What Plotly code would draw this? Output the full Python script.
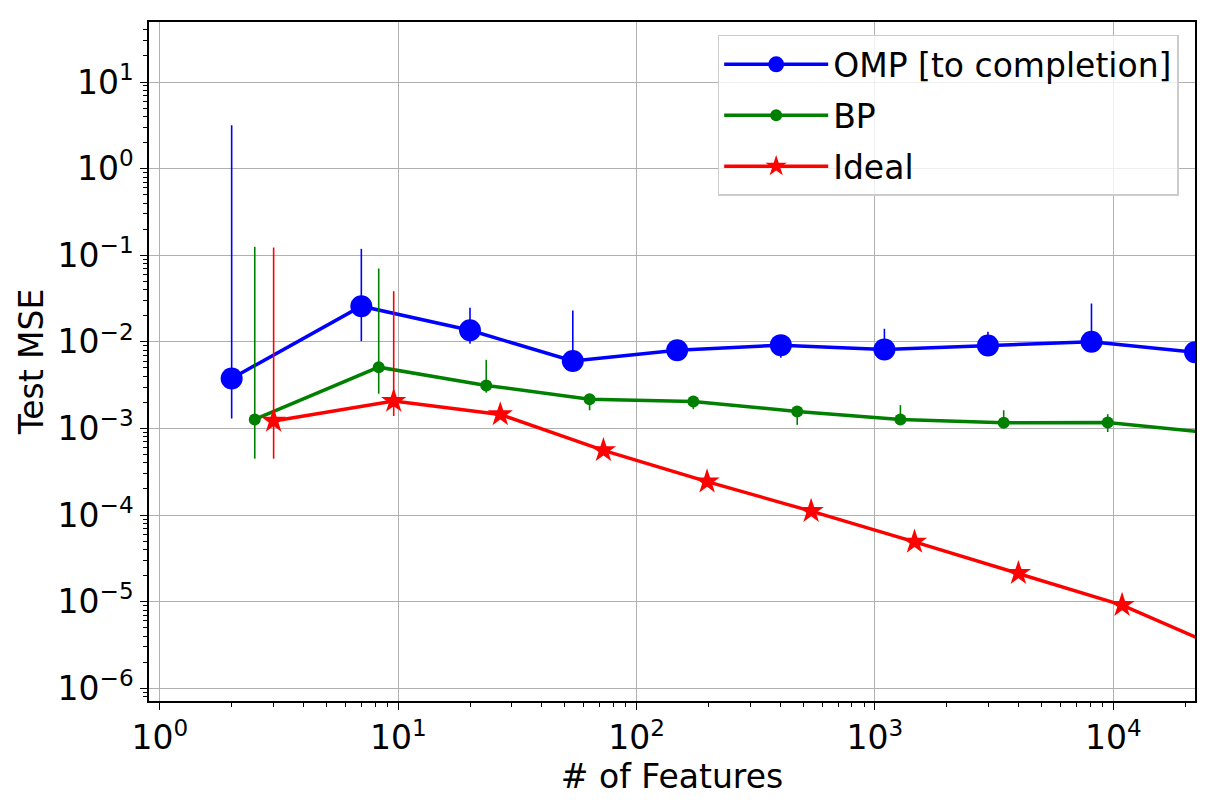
import plotly.graph_objects as go

# ---- data ----
omp_x  = [2, 7, 20, 54, 148, 403, 1096, 2980, 8103, 22026]
omp_y  = [3.78e-3, 2.58e-2, 1.36e-2, 6.0e-3, 8.0e-3, 9.16e-3, 8.17e-3, 9.09e-3, 1.0e-2, 7.6e-3]
omp_hi = [3.16, 0.1186, 0.0247, 0.023, 9.0e-3, 1.05e-2, 0.01416, 0.0131, 0.0277, 8.8e-3]
omp_lo = [1.3e-3, 0.0102, 9.5e-3, 5.2e-3, 7.2e-3, 6.56e-3, 6.6e-3, 7.2e-3, 8.2e-3, 6.5e-3]

bp_x  = [2.5, 8.28, 23.4, 63.5, 173, 472, 1279, 3470, 9480, 25880]
bp_y  = [1.27e-3, 5.1e-3, 3.14e-3, 2.17e-3, 2.05e-3, 1.57e-3, 1.27e-3, 1.16e-3, 1.17e-3, 8.9e-4]
bp_hi = [0.125, 0.0703, 6.2e-3, 2.5e-3, 2.3e-3, 1.75e-3, 1.86e-3, 1.62e-3, 1.46e-3, 1.0e-3]
bp_lo = [4.48e-4, 2.52e-3, 2.59e-3, 1.62e-3, 1.67e-3, 1.1e-3, 1.12e-3, 1.05e-3, 9.1e-4, 8.0e-4]

ideal_x  = [3.0, 9.57, 26.8, 72.6, 197.6, 540, 1466, 4000, 10890, 29700]
ideal_y  = [1.22e-3, 2.07e-3, 1.45e-3, 5.59e-4, 2.43e-4, 1.11e-4, 4.9e-5, 2.13e-5, 9.12e-6, 2.75e-6]
ideal_hi = [0.1227, 0.0384, 1.6e-3, 6.0e-4, 2.6e-4, 1.2e-4, 5.3e-5, 2.3e-5, 9.8e-6, 2.9e-6]
ideal_lo = [4.48e-4, 1.39e-3, 1.3e-3, 5.2e-4, 2.25e-4, 1.03e-4, 4.5e-5, 1.97e-5, 8.4e-6, 2.6e-6]

x_tickvals = [1, 10, 100, 1000, 10000]
x_ticktext = ["10<sup>0</sup>", "10<sup>1</sup>", "10<sup>2</sup>", "10<sup>3</sup>", "10<sup>4</sup>"]
y_tickvals = [1e-6, 1e-5, 1e-4, 1e-3, 1e-2, 1e-1, 1, 10]
y_ticktext = ["10<sup>−6</sup>", "10<sup>−5</sup>", "10<sup>−4</sup>", "10<sup>−3</sup>",
              "10<sup>−2</sup>", "10<sup>−1</sup>", "10<sup>0</sup>", "10<sup>1</sup>"]

x_range = [-0.0458, 4.343]   # log10 of (0.9, 22026)
y_range = [-6.147, 1.693]

FONT = "DejaVu Sans"
FS = 33

def minor_vals(lo_exp, hi_exp):
    vals = []
    for e in range(lo_exp, hi_exp + 1):
        for m in range(2, 10):
            vals.append(m * 10.0 ** e)
    return vals

series = [
    ("OMP [to completion]", omp_x, omp_y, omp_hi, omp_lo, "#0000ff", "circle", 22),
    ("BP", bp_x, bp_y, bp_hi, bp_lo, "#008000", "circle", 12),
    ("Ideal", ideal_x, ideal_y, ideal_hi, ideal_lo, "#ff0000", "star", 19),
]

fig = go.Figure()
for i, (name, xs, ys, hi, lo, col, sym, sz) in enumerate(series):
    fig.add_trace(go.Scatter(
        x=xs, y=ys, name=name, mode="lines+markers",
        legendgroup=f"g{i}",
        line=dict(color=col, width=3.5),
        marker=dict(color=col, symbol=sym, size=sz, line=dict(width=0)),
        error_y=dict(type="data", symmetric=False,
                     array=[h - y for h, y in zip(hi, ys)],
                     arrayminus=[y - l for l, y in zip(lo, ys)],
                     width=0, thickness=1.6, color=col),
    ))

axis_common = dict(
    type="log", showline=True, linecolor="black", linewidth=1.6, mirror=True,
    ticks="outside", ticklen=7, tickwidth=1.4, tickcolor="black",
    showgrid=True, gridcolor="#b0b0b0", gridwidth=1.3, zeroline=False,
    tickfont=dict(family=FONT, size=FS, color="black"),
)

fig.update_xaxes(**axis_common, range=x_range, tickmode="array",
                 tickvals=x_tickvals, ticktext=x_ticktext,
                 minor=dict(tickmode="array", tickvals=minor_vals(0, 4), ticks="outside",
                            ticklen=4, tickwidth=1, tickcolor="black", showgrid=False),
                 title=dict(text="# of Features",
                            font=dict(family=FONT, size=FS, color="black"),
                            standoff=6))
fig.update_yaxes(**axis_common, range=y_range, tickmode="array",
                 tickvals=y_tickvals, ticktext=y_ticktext,
                 minor=dict(tickmode="array", tickvals=minor_vals(-7, 1), ticks="outside",
                            ticklen=4, tickwidth=1, tickcolor="black", showgrid=False),
                 title=dict(text="Test MSE",
                            font=dict(family=FONT, size=FS, color="black"),
                            standoff=4))

fig.update_layout(
    width=1218, height=806,
    margin=dict(l=149, r=23, t=22, b=105),
    paper_bgcolor="white", plot_bgcolor="white",
    font=dict(family=FONT, size=FS, color="black"),
    showlegend=True,
    legend=dict(x=0.9844, y=0.981, xanchor="right", yanchor="top",
                bgcolor="rgba(255,255,255,0.8)", bordercolor="#cccccc", borderwidth=1.5,
                font=dict(family=FONT, size=FS, color="black"),
                tracegroupgap=5, itemwidth=104, traceorder="grouped"),
)

fig.write_html("out.html")
